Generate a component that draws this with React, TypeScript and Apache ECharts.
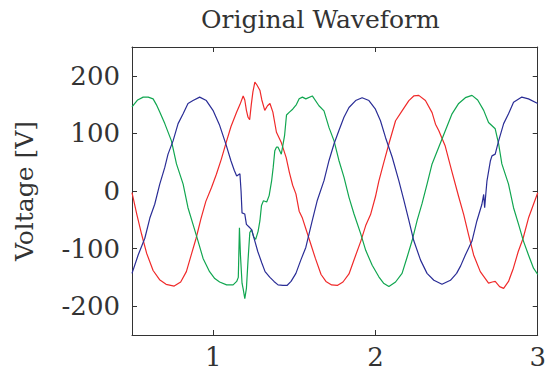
import { useEffect, useRef } from "react";
import * as echarts from "echarts";

const xTickValues = [1, 2, 3];
const yTickValues = [-200, -100, 0, 100, 200];

// Phase voltages: [time, voltage]
const redPhase: number[][] = [
  [0.5, -3], [0.53, -41], [0.56, -76], [0.59, -108], [0.63, -138], [0.67, -154],
  [0.71, -162], [0.76, -165], [0.8, -158], [0.835, -140], [0.865, -111], [0.895, -82],
  [0.925, -48], [0.955, -18], [0.99, 6], [1.02, 29], [1.05, 55], [1.08, 84],
  [1.11, 112], [1.145, 137], [1.165, 150], [1.185, 165], [1.195, 158], [1.205, 140],
  [1.215, 128], [1.225, 124], [1.235, 150], [1.245, 172], [1.257, 189], [1.27, 184],
  [1.288, 175], [1.3, 158], [1.318, 140], [1.335, 148], [1.35, 152], [1.368, 137],
  [1.39, 102], [1.42, 84], [1.45, 58], [1.47, 32], [1.49, 10], [1.51, -5],
  [1.53, -35], [1.55, -47], [1.59, -82], [1.63, -117], [1.665, -145], [1.695, -157],
  [1.73, -163], [1.765, -164], [1.8, -158], [1.837, -144], [1.87, -118], [1.91, -87],
  [1.94, -60], [1.97, -41], [2.0, -10], [2.021, 17], [2.05, 48], [2.083, 82],
  [2.124, 122], [2.164, 139], [2.206, 157], [2.236, 165], [2.267, 166], [2.308, 157],
  [2.349, 136], [2.37, 116], [2.39, 105], [2.43, 78], [2.47, 35], [2.513, -10],
  [2.544, -41], [2.574, -76], [2.605, -111], [2.646, -140], [2.697, -160], [2.72, -158],
  [2.738, -157], [2.765, -166], [2.79, -169], [2.82, -157], [2.85, -134], [2.88, -105],
  [2.91, -82], [2.943, -47], [2.974, -23], [3.0, -3],
];

const greenPhase: number[][] = [
  [0.5, 146], [0.535, 158], [0.569, 163], [0.6, 163], [0.63, 160], [0.65, 150],
  [0.671, 137], [0.702, 117], [0.743, 87], [0.774, 47], [0.815, 12], [0.845, -29],
  [0.876, -58], [0.907, -87], [0.938, -117], [0.978, -140], [1.01, -152], [1.04, -158],
  [1.083, -163], [1.123, -163], [1.145, -157], [1.155, -150], [1.162, -64], [1.168, -110],
  [1.178, -160], [1.185, -170], [1.195, -187], [1.205, -169], [1.215, -120], [1.226, -72],
  [1.237, -67], [1.25, -80], [1.262, -84], [1.277, -70], [1.288, -52], [1.298, -25],
  [1.31, -17], [1.33, -19], [1.345, -8], [1.36, 17], [1.37, 41], [1.38, 70],
  [1.39, 76], [1.4, 76], [1.42, 64], [1.44, 96], [1.452, 132], [1.47, 137],
  [1.49, 142], [1.513, 150], [1.53, 160], [1.55, 163], [1.571, 160], [1.611, 165],
  [1.652, 148], [1.683, 139], [1.714, 110], [1.745, 87], [1.775, 53], [1.806, 24],
  [1.837, -11], [1.868, -40], [1.909, -74], [1.94, -103], [1.98, -129], [2.021, -149],
  [2.05, -160], [2.083, -166], [2.124, -158], [2.164, -143], [2.195, -115], [2.226, -86],
  [2.257, -51], [2.287, -22], [2.318, 12], [2.349, 47], [2.39, 76], [2.431, 105],
  [2.472, 134], [2.513, 152], [2.554, 162], [2.595, 166], [2.63, 158], [2.667, 140],
  [2.697, 119], [2.738, 108], [2.759, 82], [2.779, 47], [2.82, 12], [2.851, -29],
  [2.882, -58], [2.912, -87], [2.943, -111], [2.974, -134], [3.0, -145],
];

const bluePhase: number[][] = [
  [0.5, -143], [0.538, -111], [0.579, -82], [0.61, -47], [0.64, -23], [0.671, 12],
  [0.702, 41], [0.722, 64], [0.753, 87], [0.784, 117], [0.815, 134], [0.845, 152],
  [0.876, 157], [0.917, 163], [0.958, 157], [0.999, 140], [1.04, 114], [1.08, 80],
  [1.11, 52], [1.13, 36], [1.145, 26], [1.165, 30], [1.172, 0], [1.178, -38],
  [1.195, -40], [1.205, -58], [1.22, -62], [1.237, -67], [1.257, -87], [1.275, -105],
  [1.3, -125], [1.32, -140], [1.35, -150], [1.375, -157], [1.4, -163], [1.43, -164],
  [1.455, -164], [1.48, -157], [1.51, -143], [1.54, -120], [1.571, -98], [1.611, -51],
  [1.642, -16], [1.683, 18], [1.714, 53], [1.745, 82], [1.775, 105], [1.806, 128],
  [1.837, 145], [1.878, 157], [1.918, 162], [1.96, 157], [2.0, 142], [2.031, 122],
  [2.062, 93], [2.103, 59], [2.144, 18], [2.175, -16], [2.206, -51], [2.236, -86],
  [2.278, -120], [2.318, -143], [2.36, -155], [2.41, -162], [2.462, -155], [2.5, -143],
  [2.525, -130], [2.554, -111], [2.595, -87], [2.625, -52], [2.656, -23], [2.667, -6],
  [2.673, -29], [2.678, -12], [2.687, 17], [2.708, 52], [2.718, 61], [2.738, 64],
  [2.759, 87], [2.79, 117], [2.82, 134], [2.851, 154], [2.902, 163], [2.943, 160],
  [3.0, 152],
];

const FONT = "DejaVu Serif";
const INK = "#333333";

export default function App() {
  const ref = useRef<HTMLDivElement>(null);

  useEffect(() => {
    if (!ref.current) return;
    const chart = echarts.init(ref.current, null, { renderer: "svg" });
    const tickStyle = { color: INK, width: 1 };
    const lineStyleAxis = { color: INK, width: 1 };
    const mkSeries = (name: string, data: number[][], color: string) => ({
      name,
      type: "line",
      data,
      symbol: "none",
      showSymbol: false,
      lineStyle: { color, width: 1.2 },
      itemStyle: { color },
      z: 2,
    });
    chart.setOption({
      animation: false,
      backgroundColor: "#ffffff",
      title: {
        text: "Original Waveform",
        left: 196,
        top: 2,
        textStyle: { fontFamily: FONT, fontSize: 25, fontWeight: "normal", color: INK },
      },
      grid: { left: 132, right: 9, top: 47, bottom: 39, show: false },
      xAxis: [
        {
          type: "value",
          min: 0.5,
          max: 3,
          position: "bottom",
          axisLine: { show: true, onZero: false, lineStyle: lineStyleAxis },
          axisTick: { show: true, inside: true, length: 5, customValues: xTickValues, lineStyle: tickStyle },
          axisLabel: { customValues: xTickValues, fontFamily: FONT, fontSize: 26, color: INK, margin: 9 },
          splitLine: { show: false },
        },
        {
          type: "value",
          min: 0.5,
          max: 3,
          position: "top",
          axisLine: { show: true, onZero: false, lineStyle: lineStyleAxis },
          axisTick: { show: true, inside: true, length: 5, customValues: xTickValues, lineStyle: tickStyle },
          axisLabel: { show: false },
          splitLine: { show: false },
        },
      ],
      yAxis: [
        {
          type: "value",
          min: -250,
          max: 250,
          position: "left",
          name: "Voltage [V]",
          nameLocation: "middle",
          nameGap: 95,
          nameTextStyle: { fontFamily: FONT, fontSize: 25, color: INK },
          axisLine: { show: true, onZero: false, lineStyle: lineStyleAxis },
          axisTick: { show: true, inside: true, length: 5, customValues: yTickValues, lineStyle: tickStyle },
          axisLabel: { customValues: yTickValues, fontFamily: FONT, fontSize: 26, color: INK, margin: 12 },
          splitLine: { show: false },
        },
        {
          type: "value",
          min: -250,
          max: 250,
          position: "right",
          axisLine: { show: true, onZero: false, lineStyle: lineStyleAxis },
          axisTick: { show: true, inside: true, length: 5, customValues: yTickValues, lineStyle: tickStyle },
          axisLabel: { show: false },
          splitLine: { show: false },
        },
      ],
      series: [
        mkSeries("Phase A", redPhase, "#f02a2a"),
        mkSeries("Phase B", greenPhase, "#11a650"),
        mkSeries("Phase C", bluePhase, "#2a2d96"),
      ],
    });
    return () => chart.dispose();
  }, []);

  return (
    <div
      ref={ref}
      style={{ position: "fixed", left: 0, top: 0, width: 549, height: 374, background: "#fff" }}
    />
  );
}
